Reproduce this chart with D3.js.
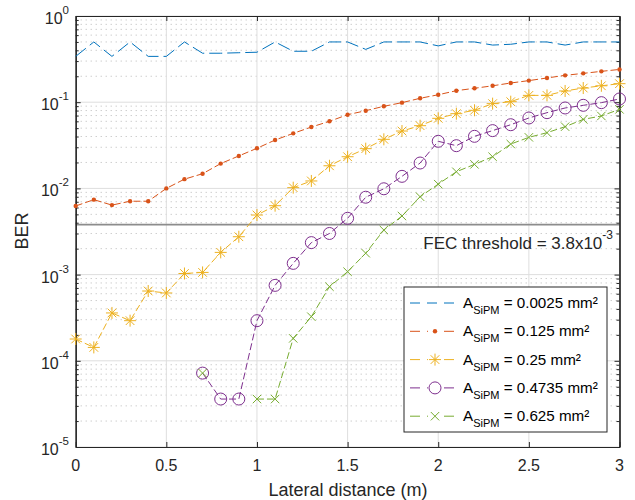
<!DOCTYPE html>
<html>
<head>
<meta charset="utf-8">
<script src="https://cdn.jsdelivr.net/npm/d3@7"></script>
<style>
  html, body { margin: 0; padding: 0; background: #fff; }
  svg { display: block; font-family: "Liberation Sans", Arial, Helvetica, sans-serif; }
</style>
</head>
<body>
<svg id="chart" width="635" height="500"></svg>
<script>
// Lateral offset of the receiver (m)
const distance = [0, 0.1, 0.2, 0.3, 0.4, 0.5, 0.6, 0.7, 0.8, 0.9, 1.0,
                  1.1, 1.2, 1.3, 1.4, 1.5, 1.6, 1.7, 1.8, 1.9, 2.0,
                  2.1, 2.2, 2.3, 2.4, 2.5, 2.6, 2.7, 2.8, 2.9, 3.0];

// BER per SiPM area (null = no errors counted, not drawn on log axis)
const ber0025 = [0.34, 0.50, 0.34, 0.50, 0.34, 0.34, 0.50, 0.37, 0.37, 0.375, 0.38,
                 0.50, 0.39, 0.39, 0.50, 0.50, 0.41, 0.50, 0.50, 0.50, 0.45,
                 0.50, 0.50, 0.46, 0.47, 0.50, 0.50, 0.46, 0.50, 0.50, 0.50];
const ber0125 = [0.00625, 0.0074, 0.0064, 0.0071, 0.0071, 0.0100, 0.0128, 0.0148, 0.0194, 0.0238, 0.0292,
                 0.0364, 0.0435, 0.0515, 0.060, 0.0716, 0.0797, 0.0896, 0.0988, 0.111, 0.122,
                 0.136, 0.145, 0.155, 0.167, 0.178, 0.191, 0.205, 0.216, 0.228, 0.240];
const ber025 = [1.79e-4, 1.43e-4, 3.59e-4, 2.92e-4, 6.45e-4, 6.12e-4, 1.03e-3, 1.06e-3, 1.81e-3, 2.75e-3, 4.91e-3,
                6.3e-3, 0.0102, 0.0122, 0.0183, 0.0233, 0.0289, 0.0371, 0.0463, 0.0534, 0.065,
                0.0736, 0.0806, 0.0962, 0.1014, 0.120, 0.120, 0.135, 0.146, 0.155, 0.164];
const ber04735 = [null, null, null, null, null, null, null, 7.2e-5, 3.6e-5, 3.6e-5, 2.92e-4,
                  7.5e-4, 1.35e-3, 2.35e-3, 3.0e-3, 4.5e-3, 7.9e-3, 9.9e-3, 0.0138, 0.0197, 0.0352,
                  0.0313, 0.0402, 0.0468, 0.0548, 0.0656, 0.0756, 0.0857, 0.092, 0.0988, 0.109];
const ber0625 = [null, null, null, null, null, null, null, 7.2e-5, null, null, 3.6e-5,
                 3.6e-5, 1.82e-4, 3.25e-4, 7.24e-4, 1.08e-3, 1.77e-3, 3.29e-3, 4.78e-3, 8.0e-3, 0.0112,
                 0.0156, 0.019, 0.0233, 0.0327, 0.0391, 0.0443, 0.052, 0.0632, 0.0692, 0.0826];

const areaLabels = ["0.0025", "0.125", "0.25", "0.4735", "0.625"];
const xTicks = [0, 0.5, 1, 1.5, 2, 2.5, 3];
const yDecades = [0, -1, -2, -3, -4, -5];
const fecThreshold = 3.8e-3;

const svg = d3.select("#chart");
const L = 75.7, R = 619.5, T = 16, B = 447;
const x = d3.scaleLinear().domain([0, 3]).range([L, R]);
const y = d3.scaleLog().domain([1e-5, 1]).range([B, T]);

const axisColor = "#262626";

// minor horizontal grid (dotted)
const minorVals = [];
yDecades.slice(0, -1).forEach(e => {
  for (let m = 2; m <= 9; m++) minorVals.push(m * Math.pow(10, e - 1));
});
svg.append("g").selectAll("line").data(minorVals).join("line")
  .attr("x1", L).attr("x2", R)
  .attr("y1", d => y(d)).attr("y2", d => y(d))
  .attr("stroke", "#b8b8b8").attr("stroke-width", 1)
  .attr("stroke-dasharray", "1,4");

// major grid
svg.append("g").selectAll("line").data(yDecades.map(e => Math.pow(10, e))).join("line")
  .attr("x1", L).attr("x2", R)
  .attr("y1", d => y(d)).attr("y2", d => y(d))
  .attr("stroke", "#dedede").attr("stroke-width", 1);
svg.append("g").selectAll("line").data(xTicks).join("line")
  .attr("x1", d => x(d)).attr("x2", d => x(d))
  .attr("y1", T).attr("y2", B)
  .attr("stroke", "#dedede").attr("stroke-width", 1);

// FEC threshold line
svg.append("line")
  .attr("x1", L).attr("x2", R)
  .attr("y1", y(fecThreshold)).attr("y2", y(fecThreshold))
  .attr("stroke", "#8c8c8c").attr("stroke-width", 1.6);

// axes (ticks pointing inward, box on all sides)
const fmtNone = () => "";
svg.append("g").attr("transform", `translate(0,${B})`)
  .call(d3.axisBottom(x).tickValues(xTicks).tickSizeInner(-5).tickSizeOuter(0).tickFormat(fmtNone));
svg.append("g").attr("transform", `translate(0,${T})`)
  .call(d3.axisTop(x).tickValues(xTicks).tickSizeInner(-5).tickSizeOuter(0).tickFormat(fmtNone));
svg.append("g").attr("transform", `translate(${L},0)`)
  .call(d3.axisLeft(y).tickValues(yDecades.map(e => Math.pow(10, e))).tickSizeInner(-5).tickSizeOuter(0).tickFormat(fmtNone));
svg.append("g").attr("transform", `translate(${R},0)`)
  .call(d3.axisRight(y).tickValues(yDecades.map(e => Math.pow(10, e))).tickSizeInner(-5).tickSizeOuter(0).tickFormat(fmtNone));
svg.append("g").attr("transform", `translate(${L},0)`)
  .call(d3.axisLeft(y).tickValues(minorVals).tickSizeInner(-3).tickSizeOuter(0).tickFormat(fmtNone));
svg.append("g").attr("transform", `translate(${R},0)`)
  .call(d3.axisRight(y).tickValues(minorVals).tickSizeInner(-3).tickSizeOuter(0).tickFormat(fmtNone));
svg.selectAll(".domain, .tick line").attr("stroke", axisColor);
svg.selectAll(".domain").attr("stroke-width", 1.2);

// tick labels
svg.append("g").selectAll("text").data(xTicks).join("text")
  .attr("x", d => x(d)).attr("y", B + 24)
  .attr("text-anchor", "middle").attr("font-size", 16).attr("fill", axisColor)
  .text(d => d);
const yLab = svg.append("g").selectAll("text").data(yDecades).join("text")
  .attr("x", 69).attr("y", d => y(Math.pow(10, d)) + 8)
  .attr("text-anchor", "end").attr("font-size", 16).attr("fill", axisColor);
yLab.append("tspan").text("10");
yLab.append("tspan").attr("dy", -10).attr("font-size", 11.5).text(d => d);

// axis titles
svg.append("text").attr("x", 348).attr("y", 496)
  .attr("text-anchor", "middle").attr("font-size", 18).attr("fill", axisColor)
  .text("Lateral distance (m)");
svg.append("text").attr("transform", "translate(28,231) rotate(-90)")
  .attr("text-anchor", "middle").attr("font-size", 18).attr("fill", axisColor)
  .text("BER");

// FEC label
const fec = svg.append("text").attr("x", 613).attr("y", 249)
  .attr("text-anchor", "end").attr("font-size", 17).attr("fill", axisColor);
fec.append("tspan").text("FEC threshold = 3.8x10");
fec.append("tspan").attr("dy", -10).attr("font-size", 12).text("-3");

// series
const colors = ["#0072BD", "#D95319", "#EDB120", "#7E2F8E", "#77AC30"];
const markers = ["none", "dot", "star", "circle", "cross"];
const seriesData = [ber0025, ber0125, ber025, ber04735, ber0625];
const dashes = ["13,5", "7,3", "7,3", "7,3", "7,3"];

function drawMarker(g, type, color) {
  if (type === "dot") {
    g.append("circle").attr("r", 2.2).attr("fill", color);
  } else if (type === "circle") {
    g.append("circle").attr("r", 6).attr("fill", "none").attr("stroke", color).attr("stroke-width", 1);
  } else if (type === "cross") {
    const s = 4.2;
    g.append("path").attr("d", `M${-s},${-s}L${s},${s}M${-s},${s}L${s},${-s}`)
      .attr("stroke", color).attr("stroke-width", 1).attr("fill", "none");
  } else if (type === "star") {
    const s = 6, d = s * 0.72;
    g.append("path")
      .attr("d", `M${-s},0L${s},0M0,${-s}L0,${s}M${-d},${-d}L${d},${d}M${-d},${d}L${d},${-d}`)
      .attr("stroke", color).attr("stroke-width", 1).attr("fill", "none");
  }
}

seriesData.forEach((vals, i) => {
  const pts = distance.map((d, k) => ({ x: d, v: vals[k] }));
  const line = d3.line().defined(p => p.v != null).x(p => x(p.x)).y(p => y(p.v));
  svg.append("path").datum(pts)
    .attr("d", line).attr("fill", "none")
    .attr("stroke", colors[i]).attr("stroke-width", 1)
    .attr("stroke-dasharray", dashes[i]);
  if (markers[i] !== "none") {
    const mg = svg.append("g");
    pts.filter(p => p.v != null).forEach(p => {
      const g = mg.append("g").attr("transform", `translate(${x(p.x)},${y(p.v)})`);
      drawMarker(g, markers[i], colors[i]);
    });
  }
});

// legend
const lg = svg.append("g");
lg.append("rect").attr("x", 404).attr("y", 287).attr("width", 203).attr("height", 145)
  .attr("fill", "#fff").attr("stroke", axisColor).attr("stroke-width", 1);
areaLabels.forEach((lab, i) => {
  const cy = 303 + i * 28.3;
  lg.append("line").attr("x1", 410).attr("x2", 460).attr("y1", cy).attr("y2", cy)
    .attr("stroke", colors[i]).attr("stroke-width", 1)
    .attr("stroke-dasharray", "10,7");
  if (markers[i] !== "none") {
    const g = lg.append("g").attr("transform", `translate(435,${cy})`);
    g.append("rect").attr("x", -7).attr("y", -2).attr("width", 14).attr("height", 4).attr("fill", "#fff");
    drawMarker(g, markers[i], colors[i]);
  }
  const t = lg.append("text").attr("x", 463).attr("y", cy + 5)
    .attr("font-size", 15.2).attr("fill", "#000");
  t.append("tspan").text("A");
  t.append("tspan").attr("dy", 6).attr("font-size", 11).text("SiPM");
  t.append("tspan").attr("dy", -6).text(` = ${lab} mm²`);
});
</script>
</body>
</html>
